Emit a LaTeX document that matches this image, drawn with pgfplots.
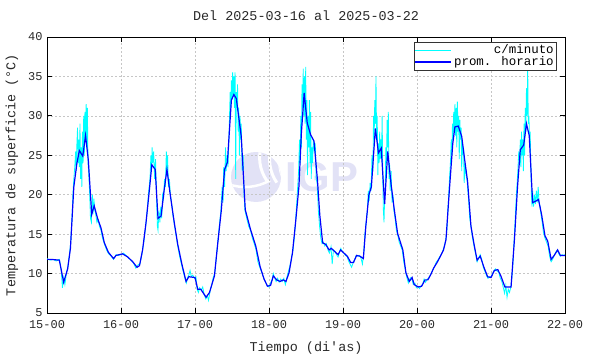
\documentclass[border=0pt]{standalone}
\usepackage{fontspec}
\setmainfont{Liberation Mono}[Ligatures=TeXOff]
\newfontfamily\wmfont{Liberation Sans}
\usepackage{pgfplots}
\pgfplotsset{compat=1.18}
\definecolor{wm}{RGB}{226,226,246}
\definecolor{cyanline}{RGB}{0,255,255}
\definecolor{blueline}{RGB}{0,0,255}
\definecolor{txt}{RGB}{40,40,40}
\begin{document}
\begin{tikzpicture}
\useasboundingbox (0,0) rectangle (590bp,354bp);
% watermark
\fill[wm] (256bp,177bp) circle (25bp);
\begin{scope}
\clip (256bp,177bp) circle (25bp);
\draw[white, line width=3bp] (262bp,210bp) arc[start angle=160, end angle=215, radius=40bp];
\draw[white, line width=3bp] (272bp,208bp) arc[start angle=160, end angle=215, radius=40bp];
\draw[white, line width=3bp] (282bp,206bp) arc[start angle=160, end angle=215, radius=40bp];
\draw[white, line width=2.5bp] (228bp,170bp) arc[start angle=250, end angle=300, radius=50bp];
\end{scope}
\node[wm, font=\wmfont\bfseries\fontsize{42}{42}\selectfont, inner sep=0pt] at (322bp,177bp) {IGP};
\begin{axis}[
  at={(47bp,41bp)}, anchor=south west,
  scale only axis, width=518bp, height=276bp,
  xmin=0, xmax=168, ymin=5, ymax=40,
  xtick={0,24,48,72,96,120,144,168},
  xticklabels={15-00,16-00,17-00,18-00,19-00,20-00,21-00,22-00},
  ytick={5,10,15,20,25,30,35,40},
  grid=major,
  major grid style={gray!45, line width=0.5pt, dash pattern=on 1.5bp off 2.5bp},
  tick align=inside, major tick length=5bp,
  tick style={black, line width=0.8pt},
  axis line style={black, line width=1pt},
  /pgf/number format/assume math mode=true,
  tick label style={font=\fontsize{12}{12}\selectfont, text=txt},
  xticklabel style={yshift=-4bp},
  yticklabel style={xshift=-1bp},
  title={Del 2025-03-16 al 2025-03-22},
  title style={font=\fontsize{13.5}{14}\selectfont, text=txt, at={(0.5,1)}, anchor=base, yshift=11bp, inner sep=0pt},
  xlabel={Tiempo (di'as)},
  ylabel={Temperatura de superficie (°C)},
  label style={font=\fontsize{13.5}{14}\selectfont, text=txt},
  xlabel style={yshift=-6bp},
  ylabel style={yshift=3bp},
  legend style={at={(1,1)}, xshift=-8bp, yshift=-5bp, anchor=north east,
    draw=black!80, line width=0.6pt, font=\fontsize{12.5}{12.5}\selectfont,
    inner xsep=1bp, inner ysep=0.5bp, row sep=-2.5bp, fill=white},
  legend cell align=right,
  legend image code/.code={\draw[#1] (0bp,0bp) -- (36bp,0bp);},
]
\addplot[cyanline, line width=0.8bp] coordinates {
(0,11.9) (1,11.7) (2,11.8) (3,11.6) (4,11.8) (4.6,10.5) (5,8.2) (5.4,9.5) (5.8,8.6) (6.3,10) (6.8,11) (7.3,12.5) (7.7,14) (8.1,17) (8.4,20) (8.7,22) (9.0,23.5) (9.3,25.5) (9.5,23) (9.7,26.5) (9.9,28.5) (10.1,24) (10.3,27) (10.5,23.5) (10.7,29) (10.9,22) (11.1,26) (11.3,21) (11.5,28) (11.7,24) (11.9,30) (12.1,25) (12.3,30.5) (12.5,27) (12.7,31.5) (12.9,26) (13.1,31) (13.3,24) (13.5,23) (13.8,20.5) (14.1,17) (14.4,16.5) (14.7,20) (14.9,17.5) (15.2,19.5) (15.5,18) (15.8,17.5) (16.2,16.5) (16.6,16.8) (17,16) (17.5,15.5) (18,14.5) (18.6,13.8) (19.3,13) (20,12.5) (20.8,12.2) (21.6,11.8) (22.4,12.4) (23.2,12.3)
(24,12.4) (24.8,12.6) (25.6,12.3) (26.4,12.0) (27.2,11.7) (28,11.4) (28.8,10.7) (29.5,11.1) (30.2,11.3) (30.8,12.5) (31.4,14) (32,16) (32.5,18) (33,20.5) (33.4,22) (33.7,25) (33.9,23) (34.1,26) (34.3,24) (34.6,25.5) (34.9,22) (35.2,24.5) (35.5,20) (35.8,16) (36.0,15.5) (36.3,18) (36.6,16.5) (36.9,18.5) (37.2,17) (37.5,20) (37.8,19.5) (38.1,22) (38.4,21) (38.7,25.5) (38.9,22.5) (39.1,25) (39.4,21) (39.7,22) (40.0,20) (40.4,19) (40.8,17.5) (41.3,16.2) (41.8,15) (42.4,13.5) (43,12.2) (43.6,11.2) (44.2,10.2) (44.8,9.3) (45.2,8.8) (45.6,9.5) (46,9.8) (46.4,10.4) (46.8,9.6) (47.3,9.8) (47.8,9.4)
(48.3,9.6) (48.7,8) (49.1,7.6) (49.5,8.2) (50,7.9) (50.5,8.3) (51,7.3) (51.5,6.8) (52,7.2) (52.4,6.6) (52.9,7.8) (53.4,8.5) (53.9,9.5) (54.4,10) (55,12.5) (55.5,14.5) (56,16.5) (56.4,18) (56.8,21) (57.1,19) (57.3,23.5) (57.6,21) (57.9,26) (58.1,23) (58.4,25) (58.7,23.5) (59,27) (59.2,30) (59.4,33) (59.6,31) (59.8,34.5) (60,32) (60.2,35.5) (60.4,32.5) (60.6,35) (60.8,31) (61,35.5) (61.2,22) (61.4,33) (61.6,31) (61.8,34) (62,28) (62.2,31) (62.4,25) (62.6,30) (62.8,27) (63,29) (63.3,23) (63.6,25) (63.9,20) (64.2,18) (64.5,17.5) (64.9,16.8) (65.4,16) (66,15.5) (66.6,14.5) (67.2,13.8) (67.8,13) (68.4,11.5) (69,10.8) (69.6,10.2) (70.2,9.5) (70.8,9) (71.4,8.5) (72,8.3)
(72.5,8.8) (73,9.2) (73.4,10) (73.8,9.5) (74.3,9.0) (74.8,9.4) (75.3,8.9) (75.8,9.3) (76.3,9.0) (76.8,9.4) (77.3,8.6) (77.8,9.5) (78.3,10.3) (78.8,11) (79.3,12) (79.8,13) (80.2,14.5) (80.6,16.5) (81,19) (81.3,21) (81.6,23) (81.9,27) (82.1,24) (82.3,30) (82.5,26) (82.7,34) (82.9,31) (83.1,36) (83.3,30) (83.5,35) (83.7,29) (83.9,36.2) (84.1,27) (84.3,32) (84.5,22.5) (84.7,30) (84.9,26) (85.1,32) (85.3,24) (85.5,30.5) (85.7,22) (85.9,26) (86.1,24) (86.4,27) (86.7,25.5) (87,26.5) (87.3,22) (87.6,21.5) (88,18) (88.4,16) (88.8,14.5) (89.2,13.8) (89.6,14) (90.1,13.5) (90.6,13.8) (91.1,13.0) (91.6,12.6) (92.1,13.4) (92.5,11.2) (92.9,13) (93.4,12.8) (93.9,12.4) (94.4,12.1) (94.9,12.8) (95.3,13.2) (95.8,12.8)
(96.3,12.6) (96.8,12.3) (97.3,12.2) (97.8,11.6) (98.3,11.2) (98.8,10.8) (99.3,11.4) (99.8,11.8) (100.3,12.3) (100.8,12.2) (101.3,12.3) (101.8,12.0) (102.3,11.2) (102.7,12.5) (103.1,15) (103.5,16.5) (103.9,18) (104.2,20.5) (104.5,19.2) (104.8,21.5) (105.1,20.5) (105.4,25) (105.7,23) (105.9,30) (106.1,27) (106.3,32) (106.5,29) (106.7,35) (106.9,27) (107.1,30) (107.3,22.5) (107.5,26.5) (107.7,24) (107.9,28) (108.1,24.5) (108.3,27) (108.5,25) (108.7,30) (108.9,22) (109.1,18) (109.3,16.5) (109.5,19.5) (109.7,21) (109.9,26) (110.1,24) (110.3,29.5) (110.5,26) (110.7,30.5) (110.9,22) (111.1,24) (111.3,20.5) (111.6,23) (111.9,19) (112.2,20) (112.5,18) (112.9,17) (113.3,15.5) (113.7,15) (114.2,14) (114.7,13.5) (115.2,13) (115.7,11.5) (116.2,10.5) (116.7,9.5) (117.2,8.8) (117.6,9.3) (118,9.5) (118.4,9.2) (118.8,8.6) (119.3,8.8) (119.8,8.2) (120.3,8.4) (120.8,8.1) (121.3,8.4)
(121.8,8.6) (122.3,9.3) (122.8,8.9) (123.3,9.3) (123.8,9.4) (124.3,9.8) (124.8,10.2) (125.3,10.6) (125.8,11) (126.3,11.5) (126.8,11.7) (127.3,12.1) (127.8,12.4) (128.3,12.8) (128.8,13.4) (129.3,14.2) (129.7,15.5) (130,18) (130.3,20) (130.6,22.5) (130.9,24.5) (131.1,27) (131.3,25) (131.5,29) (131.7,27) (131.9,30.5) (132.1,28) (132.3,31.5) (132.5,27.5) (132.7,31) (132.9,26) (133.1,31.8) (133.3,28) (133.5,30) (133.7,24.5) (133.9,29.5) (134.1,27) (134.3,28.5) (134.5,23) (134.7,27) (134.9,25.5) (135.1,26) (135.3,21.5) (135.6,24) (135.9,22.5) (136.2,22) (136.5,20.5) (136.8,19) (137.1,17) (137.5,16) (138,14.5) (138.5,13.5) (139,12.5) (139.5,11.5) (140,12) (140.5,12.4) (141,11.8) (141.5,10.8) (142,10.3) (142.5,9.8) (143,9.4) (143.5,9.6) (144,9.6)
(144.5,10) (145,10.4) (145.5,10.6) (146,10.3) (146.5,10.2) (147,9.4) (147.5,9) (148,8.2) (148.4,7.5) (148.8,8.5) (149.2,7.0) (149.6,8.0) (150,7.6) (150.5,8.4) (151,10.5) (151.4,13.5) (151.8,16.5) (152.1,19) (152.4,21) (152.7,23) (153,25.5) (153.3,24) (153.5,27) (153.7,23.5) (153.9,28) (154.1,25) (154.3,27) (154.5,23) (154.7,29) (154.9,25) (155.1,31) (155.3,28) (155.5,33.5) (155.7,30) (155.9,36.5) (156.1,29) (156.3,30) (156.5,27) (156.7,28) (156.9,24) (157.1,20) (157.3,18.5) (157.5,20.5) (157.8,18.5) (158.1,20) (158.4,18.8) (158.7,20.5) (159,19) (159.3,21) (159.6,19) (159.9,18.5) (160.2,17.5) (160.6,16.5) (161,15.2) (161.5,14.5) (162,14) (162.5,13.5) (163,12.2) (163.5,11.5) (164,11.8) (164.5,12.3) (165,12.7) (165.5,13) (166,12.5) (166.5,12.2) (167,12.4) (167.5,12.3) (168,12.4)
};
\addlegendentry{c/minuto}
\addplot[blueline, line width=1.2bp] coordinates {
(0,11.8) (1.3,11.8) (4,11.7) (5.4,8.9) (6.7,10.6) (7.6,13.2) (8.7,21) (9.7,24) (10.5,25.6) (11.6,24.9) (12.5,27.5) (13.4,24.4) (14.5,17.5) (15.3,18.6) (16.4,17) (17.5,15.8) (18.6,13.9) (19.9,12.7) (21.6,11.9) (22.4,12.3)
(24.5,12.5) (26.2,12.1) (27.8,11.5) (29.2,10.8) (30,11) (31,13) (32.1,16.4) (33.2,20.6) (34,23.8) (35.1,23.2) (36,17) (37,17.3) (38,20.6) (38.9,23.2) (39.9,20.2) (41.3,16.4) (42.4,13.7) (43.8,11.1) (45.1,9) (46,9.6)
(48,9.5) (48.9,8) (49.9,8) (51.6,7) (52.7,7.6) (54.3,9.7) (55.4,13.9) (56.5,17.9) (57.6,23.2) (58.5,24.1) (59.8,32) (60.6,32.7) (61.4,32.2) (63,27.4) (64.3,18.1) (66,15.6)
(67.7,13.5) (69.1,10.9) (70.4,9.3) (71.5,8.4) (72.5,8.5) (73.4,9.7) (74.5,9.2) (75.6,9) (76.6,9.2) (77.5,9) (78.5,10.1) (79.6,12.6) (80.6,16.4) (81.7,21) (82.5,27.8) (83.4,32.9) (84.4,29.1) (85.5,27.6) (86.6,26.8) (87.7,21.9) (88.5,17.3) (89.4,13.9) (90.4,13.7) (91.5,13) (92.2,13.2) (93.3,12.8) (94.4,12.4) (95.2,13) (96.3,12.6) (97.4,12.2) (98.5,11.4) (99.4,11.4) (100.4,12.3) (101.5,12.2) (102.6,11.9) (103.4,16) (104.4,20) (105.2,21) (106.5,28.4) (107.5,25.3) (108.4,25.9) (109.5,18.8) (110.5,25.5) (111.6,21.3) (112.6,18.2) (113.7,15.1)
(115.4,13) (116.4,10.1) (117.5,9) (118.4,9.5) (119.1,8.6) (120.4,8.3) (121.5,8.4) (122.6,9.2) (123.5,9.2) (124.5,9.9) (125.4,10.7) (126.5,11.4) (127.6,12.2) (128.6,13) (129.4,14.3) (130.5,20.6) (131.6,26.5) (132.3,28.6) (133.4,28.7) (134.5,27.4) (135.4,24.6) (136.4,21.7) (137.5,16) (138.6,13.5) (139.5,11.7) (140.5,12.2) (141.8,10.7) (142.9,9.6)
(144,9.5) (145.1,10.4) (146.2,10.5) (147.2,9.7) (148.5,8.3) (150.5,8.3) (151.6,14.3) (152.6,21) (153.5,25.7) (154.6,26.3) (155.5,29) (156.4,27.5) (157.5,19) (158.6,19.2) (159.4,19.4) (160.4,17.5) (161.5,14.8) (162.4,14.1) (163.5,11.8) (164.5,12.3) (165.6,13) (166.5,12.3) (168,12.3)
};
\addlegendentry{prom. horario}
\end{axis}
\end{tikzpicture}
\end{document}
